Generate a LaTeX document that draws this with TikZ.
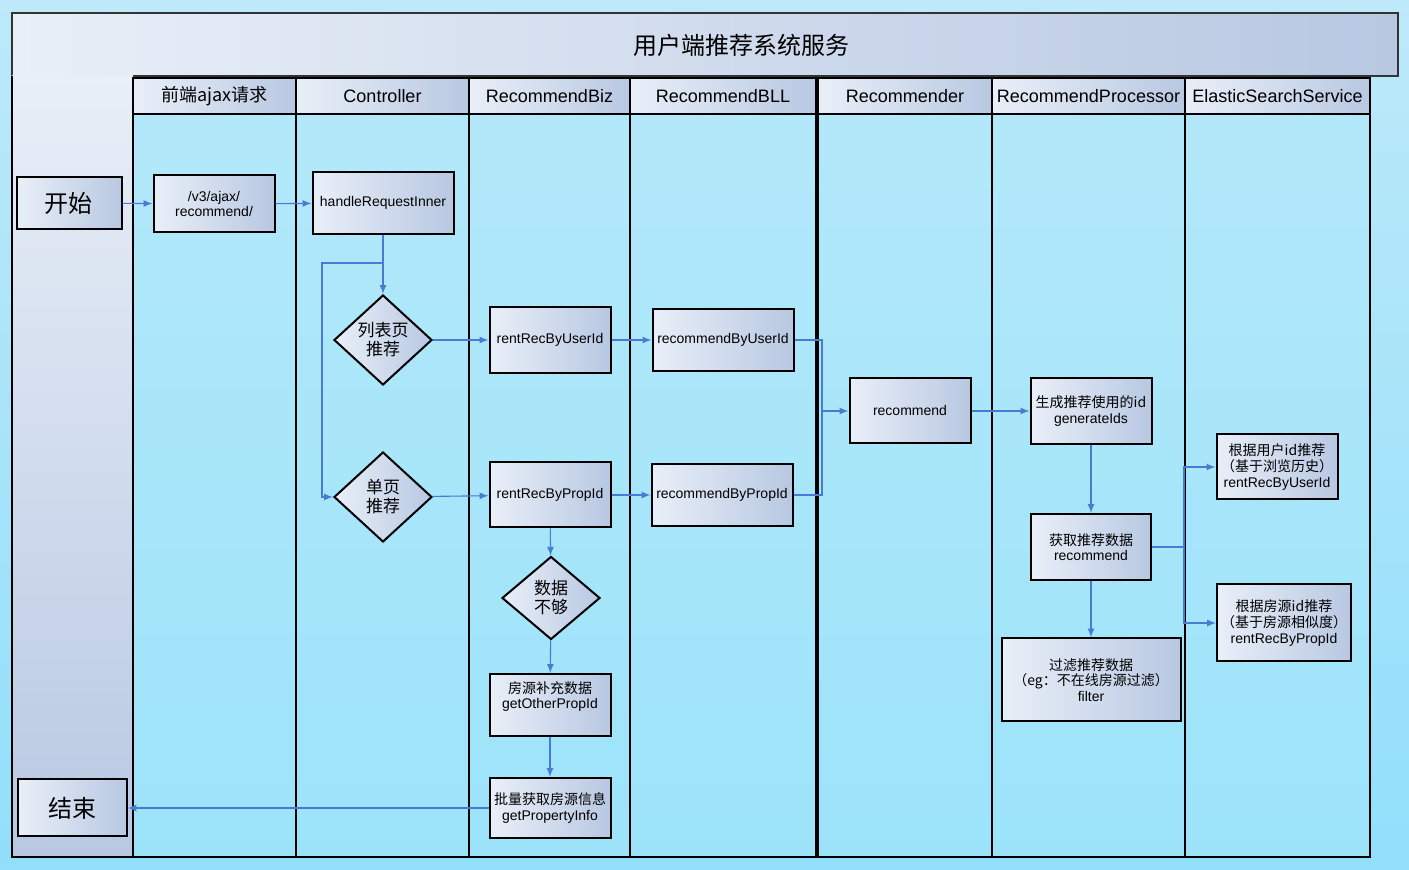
\documentclass[tikz,border=0pt]{standalone}
\usepackage{fontspec}
\setmainfont{Liberation Sans}
\newfontfamily\cjk{Noto Sans CJK SC}
\usepackage{tikz}
\usetikzlibrary{shapes.geometric}
\usetikzlibrary{positioning}
\usetikzlibrary{arrows}

\definecolor{bgtop}{HTML}{BDE9FA}
\definecolor{bgbot}{HTML}{92DFFB}
\definecolor{lanetop}{HTML}{B3E8FA}
\definecolor{lanemid}{HTML}{80DEFD}
\definecolor{lanebot}{HTML}{9CE3FA}
\definecolor{boxlight}{HTML}{E9EFF8}
\definecolor{boxdark}{HTML}{B8C8E2}
\definecolor{flow}{HTML}{4A7BD2}

\tikzset{
  procbox/.style={draw=black,line width=1pt,left color=boxlight,right color=boxdark,
    align=center,inner sep=1pt,font=\fontsize{7}{7.8}\selectfont},
  termbox/.style={draw=black,line width=1pt,left color=boxlight,right color=boxdark,
    font=\cjk\fontsize{12}{14}\selectfont},
  decbox/.style={diamond,draw=black,line width=1pt,left color=boxlight,right color=boxdark,
    align=center,inner sep=0pt,minimum width=49pt,minimum height=45pt,
    font=\cjk\fontsize{8.5}{9.5}\selectfont},
  lanehead/.style={font=\fontsize{9}{10}\selectfont},
  flowline/.style={draw=flow,line width=0.55pt},
  flowarrow/.style={flowline,-latex},
}

\begin{document}
\begin{tikzpicture}[x=0.5pt,y=-0.5pt]

\useasboundingbox (0,0) rectangle (1409,870);
\shade[top color=bgtop,bottom color=bgbot] (0,0) rectangle (1409,870);

\shade[left color=boxlight,right color=boxdark] (12,13) rectangle (1398,76);
\draw[line width=0.8pt,draw=black!80] (12,13) rectangle (1398,76);
\node (title) at (741,45) [font=\cjk\fontsize{12}{14}\selectfont] {用户端推荐系统服务};

\shade[top color=boxlight,bottom color=boxdark] (12,76) rectangle (133,857);
\draw[line width=1.2pt] (12,76) -- (12,857) -- (133,857);

\foreach \xa/\xb/\name [count=\i] in {133/296/{\cjk 前端ajax请求},296/469/Controller,
  469/630/RecommendBiz,630/816/RecommendBLL,818/992/Recommender,
  992/1185/RecommendProcessor,1185/1370/ElasticSearchService}
{
  \shade[top color=lanetop,middle color=lanemid,bottom color=lanebot] (\xa,114) rectangle (\xb,857);
  \shade[left color=boxlight,right color=boxdark] (\xa,78) rectangle (\xb,114);
  \draw[line width=1.2pt] (\xa,78) rectangle (\xb,114);
  \draw[line width=1.2pt] (\xa,114) rectangle (\xb,857);
  \node (lane\i) at ({(\xa+\xb)/2},96) [lanehead] {\name};
}

\node (start) at (69,203) [termbox,minimum width=52.5pt,minimum height=26pt] {开始};
\node (stop) at (72,808) [termbox,minimum width=54.5pt,minimum height=28.5pt] {结束};

\node (ajax) at (214,204) [procbox,minimum width=60.5pt,minimum height=28.5pt] {/v3/ajax/\\recommend/};
\node (handle) at (383,203) [procbox,minimum width=70.5pt,minimum height=31pt] {handleRequestInner};
\node (listpage) at (383,340) [decbox] {列表页\\推荐};
\node (singlepage) at (383,497) [decbox] {单页\\推荐};

\node (userbiz) at (550,340) [procbox,minimum width=60.5pt,minimum height=33pt] {rentRecByUserId};
\node (propbiz) at (550,495) [procbox,minimum width=60.5pt,minimum height=32.5pt] {rentRecByPropId};
\node (notenough) at (551,598) [decbox,minimum height=41.5pt] {数据\\不够};
\node (otherprop) at (550,705) [procbox,minimum width=60.5pt,minimum height=31pt,text depth=10pt] {{\cjk 房源补充数据}\\getOtherPropId};
\node (propinfo) at (550,808) [procbox,minimum width=60.5pt,minimum height=30pt] {{\cjk 批量获取房源信息}\\getPropertyInfo};

\node (userbll) at (723,340) [procbox,minimum width=70.5pt,minimum height=31pt] {recommendByUserId};
\node (propbll) at (722,495) [procbox,minimum width=70.5pt,minimum height=31pt] {recommendByPropId};

\node (recmd) at (910,411) [procbox,minimum width=60.5pt,minimum height=32.5pt] {recommend};

\node (genids) at (1091,411) [procbox,minimum width=60.5pt,minimum height=33pt] {{\cjk 生成推荐使用的id}\\generateIds};
\node (fetch) at (1091,547) [procbox,minimum width=60pt,minimum height=33pt] {{\cjk 获取推荐数据}\\recommend};
\node (filter) at (1091,680) [procbox,minimum width=89.5pt,minimum height=41.5pt] {{\cjk 过滤推荐数据}\\{\cjk （eg：不在线房源过滤）}\\filter};

\node (esuser) at (1277,467) [procbox,minimum width=60.5pt,minimum height=32.5pt] {{\cjk 根据用户id推荐}\\{\cjk （基于浏览历史）}\\rentRecByUserId};
\node (esprop) at (1284,623) [procbox,minimum width=67pt,minimum height=38.5pt] {{\cjk 根据房源id推荐}\\{\cjk （基于房源相似度）}\\rentRecByPropId};

\draw[flowarrow] (start) -- (ajax);
\draw[flowarrow] (ajax) -- (handle);
\draw[flowarrow] (handle) -- (listpage);
\coordinate (branch) at (383,263);
\draw[flowarrow] (branch) -- ++(-61,0) |- (singlepage.west);
\draw[flowarrow] (listpage) -- (userbiz);
\draw[flowarrow] (singlepage) -- (propbiz);
\draw[flowarrow] (userbiz) -- (userbll);
\draw[flowarrow] (propbiz) -- (propbll);

\coordinate (merge) at (822,411);
\draw[flowline] (userbll.east) -| (merge);
\draw[flowline] (propbll.east) -| (merge);
\draw[flowarrow] (merge) -- (recmd);
\draw[flowarrow] (recmd) -- (genids);
\draw[flowarrow] (genids) -- (fetch);
\draw[flowarrow] (fetch) -- (filter);

\coordinate (split) at (1184,547);
\draw[flowline] (fetch.east) -- (split);
\draw[flowarrow] (split) |- (esuser.west);
\draw[flowarrow] (split) |- (esprop.west);

\draw[flowarrow] (propbiz) -- (notenough);
\draw[flowarrow] (notenough) -- (otherprop);
\draw[flowarrow] (otherprop) -- (propinfo);
\draw[flowarrow] (propinfo) -- (stop);

\end{tikzpicture}
\end{document}
